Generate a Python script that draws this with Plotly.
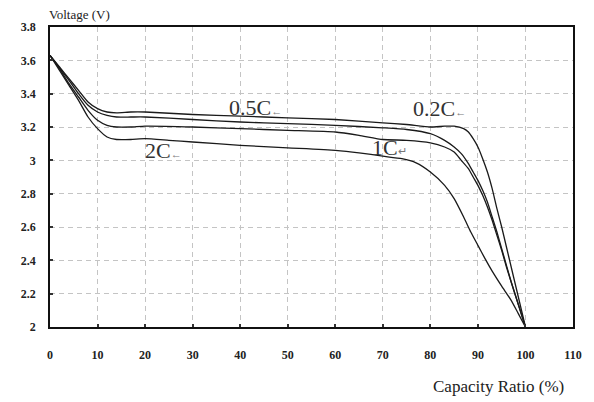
import plotly.graph_objects as go

# ---- data ----
x_02 = [0, 2, 4, 6, 8, 10, 12, 14, 17, 20, 30, 40, 50, 60, 70, 75, 80, 83, 85, 87, 88, 89, 90, 91, 92, 93, 94, 95, 96, 97, 98, 99, 100]
v_02 = [3.63, 3.56, 3.49, 3.42, 3.35, 3.31, 3.29, 3.285, 3.29, 3.29, 3.275, 3.265, 3.255, 3.245, 3.225, 3.215, 3.20, 3.205, 3.205, 3.19, 3.17, 3.13, 3.08, 3.01, 2.93, 2.83, 2.71, 2.60, 2.48, 2.36, 2.24, 2.12, 2.0]

x_05 = [0, 2, 4, 6, 8, 10, 12, 14, 17, 20, 30, 40, 50, 60, 70, 75, 80, 83, 85, 86.5, 88, 89, 90, 91, 92, 93, 94, 95, 96, 97, 98, 99, 100]
v_05 = [3.63, 3.555, 3.48, 3.40, 3.33, 3.29, 3.27, 3.26, 3.26, 3.26, 3.245, 3.23, 3.22, 3.21, 3.195, 3.185, 3.16, 3.12, 3.08, 3.04, 2.98, 2.93, 2.88, 2.82, 2.75, 2.66, 2.57, 2.47, 2.37, 2.27, 2.18, 2.09, 2.0]

x_1 = [0, 2, 4, 6, 8, 10, 12, 14, 17, 20, 30, 40, 50, 60, 65, 70, 75, 80, 83, 85, 86.5, 88, 89, 90, 91, 92, 93, 94, 95, 96, 97, 98, 99, 100]
v_1 = [3.63, 3.55, 3.46, 3.38, 3.30, 3.24, 3.21, 3.20, 3.20, 3.205, 3.20, 3.19, 3.18, 3.17, 3.15, 3.125, 3.12, 3.105, 3.08, 3.05, 3.0, 2.95, 2.90, 2.85, 2.79, 2.72, 2.64, 2.55, 2.46, 2.36, 2.27, 2.18, 2.09, 2.0]

x_2 = [0, 2, 4, 6, 8, 10, 12, 14, 17, 20, 25, 30, 40, 50, 60, 65, 70, 74, 77, 80, 83, 85, 87, 88.5, 90, 91.5, 93, 95, 97, 98.5, 100]
v_2 = [3.63, 3.54, 3.45, 3.36, 3.26, 3.19, 3.14, 3.125, 3.125, 3.13, 3.12, 3.11, 3.09, 3.075, 3.06, 3.045, 3.025, 3.01, 2.985, 2.93, 2.85, 2.77, 2.66, 2.57, 2.49, 2.41, 2.335, 2.245, 2.16, 2.08, 2.0]

series = [("0.2C", x_02, v_02), ("0.5C", x_05, v_05), ("1C", x_1, v_1), ("2C", x_2, v_2)]

x_ticks = [0, 10, 20, 30, 40, 50, 60, 70, 80, 90, 100, 110]
y_ticks = [2, 2.2, 2.4, 2.6, 2.8, 3, 3.2, 3.4, 3.6, 3.8]
y_ticktext = ["2", "2.2", "2.4", "2.6", "2.8", "3", "3.2", "3.4", "3.6", "3.8"]

# curve labels: (text, suffix, x, y)
curve_labels = [
    ("0.5C", "←", 37.3, 3.32),
    ("0.2C", "←", 76.0, 3.31),
    ("2C", "←", 19.6, 3.06),
    ("1C", "↵", 67.2, 3.08),
]

SERIF = "Liberation Serif, Times New Roman, serif"

fig = go.Figure()
for name, xs, vs in series:
    fig.add_trace(go.Scatter(x=xs, y=vs, mode="lines", name=name,
                             line=dict(color="#1a1a1a", width=1.3, shape="spline", smoothing=0.5),
                             showlegend=False, hoverinfo="skip"))

for txt, suf, lx, ly in curve_labels:
    fig.add_annotation(x=lx, y=ly, xref="x", yref="y", xanchor="left", yanchor="middle",
                       text=f"{txt}<span style='font-size:11px;color:#777'>{suf}</span>",
                       showarrow=False, font=dict(family=SERIF, size=22, color="#333"))

fig.add_annotation(x=0, y=1, xref="paper", yref="paper", xanchor="left", yanchor="middle",
                   xshift=-3, yshift=13, text="Voltage (V)", showarrow=False,
                   font=dict(family=SERIF, size=13, color="#222"))
fig.add_annotation(x=0.972, y=0, xref="paper", yref="paper", xanchor="right", yanchor="middle",
                   xshift=8, yshift=-59, text="Capacity Ratio (%)", showarrow=False,
                   font=dict(family=SERIF, size=17, color="#222"))

axis_common = dict(showgrid=True, gridcolor="#c4c4c4", gridwidth=1, griddash="5px,4px",
                   showline=True, linecolor="#111", linewidth=1.5, mirror=True,
                   ticks="inside", ticklen=3, tickcolor="#333", tickwidth=1.5,
                   zeroline=False,
                   tickfont=dict(family=SERIF, size=12, color="#222", weight="bold"))

fig.update_xaxes(range=[0, 110], tickvals=x_ticks, ticklabelstandoff=16, **axis_common)
fig.update_yaxes(range=[2, 3.8], tickvals=y_ticks, ticktext=y_ticktext, ticklabelstandoff=10, **axis_common)

# page body has an 8px margin, so the figure is shrunk and margins offset to compensate
fig.update_layout(width=586, height=394,
                  margin=dict(l=42, r=14, t=19, b=75),
                  paper_bgcolor="white", plot_bgcolor="white")

fig.write_html("out.html")
